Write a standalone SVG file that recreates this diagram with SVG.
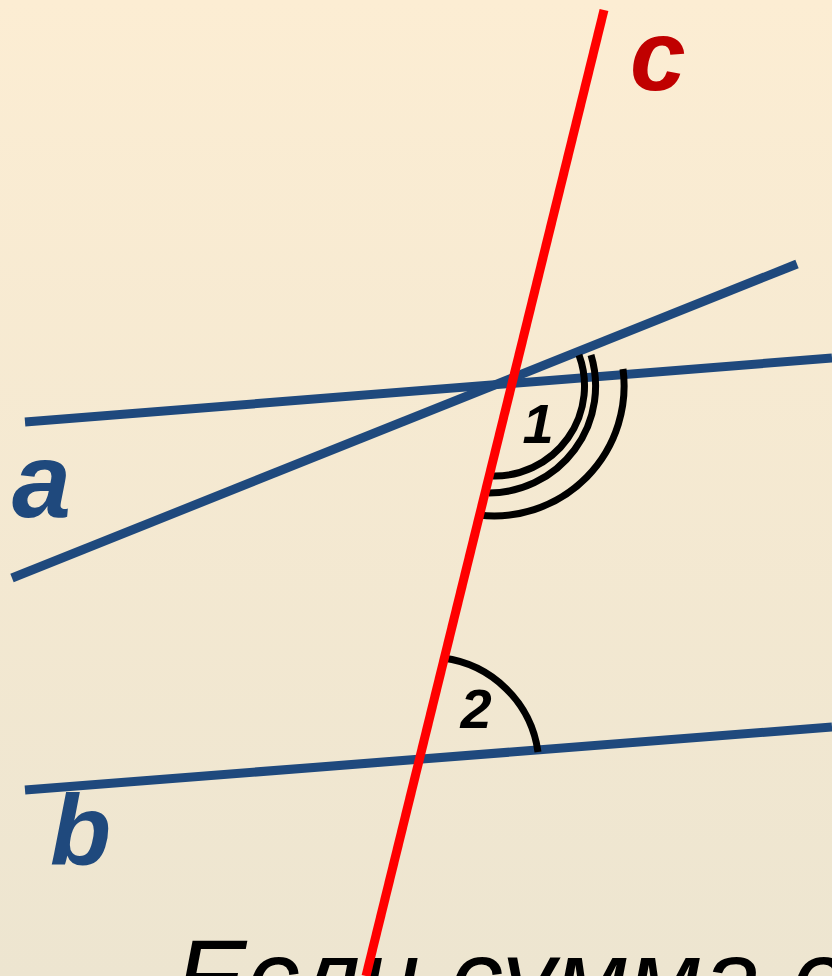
<svg xmlns="http://www.w3.org/2000/svg" width="832" height="976" viewBox="0 0 832 976">
<defs>
<linearGradient id="bg" x1="0" y1="0" x2="0" y2="1">
<stop offset="0" stop-color="#FCEDD3"/>
<stop offset="1" stop-color="#EDE5D0"/>
</linearGradient>
</defs>
<style>
.blue{stroke:#1F497D;stroke-width:9;fill:none}
.red{stroke:#FF0000;stroke-width:9;fill:none}
.arc{stroke:#000;stroke-width:7;fill:none}
.lbl{font-family:"Liberation Sans",Arial,sans-serif;font-weight:bold;font-style:italic}
.num{font-family:"Liberation Sans",Arial,sans-serif;font-weight:bold;font-style:italic;font-size:56px;fill:#000;text-anchor:middle}
.cap{font-family:"Liberation Sans",Arial,sans-serif;font-style:italic;font-size:107px;fill:#000}
</style>
<rect width="832" height="976" fill="url(#bg)"/>
<g id="lines">
<line id="line-a" class="blue" x1="25" y1="422" x2="832" y2="358"/>
<line id="line-a2" class="blue" x1="12" y1="578" x2="797" y2="264"/>
<line id="line-b" class="blue" x1="25" y1="790" x2="832" y2="727"/>
</g>
<g id="arcs">
<path class="arc" d="M579,355 A90,90 0 0 1 493,476"/>
<path class="arc" d="M591,355 A107,107 0 0 1 489,493"/>
<path class="arc" d="M623,369 A130,130 0 0 1 479,515"/>
<path class="arc" d="M443,658 A110,110 0 0 1 538,752"/>
</g>
<text class="cap" x="175" y="1015">Если сумма с</text>
<g id="line-c"><line class="red" x1="604" y1="10" x2="366" y2="976"/></g>
<g id="labels">
<text class="num" x="538" y="443">1</text>
<text class="num" x="476" y="728">2</text>
<text class="lbl" x="12" y="517" font-size="106" fill="#1F497D">a</text>
<text class="lbl" x="50" y="865" font-size="100" fill="#1F497D">b</text>
<text class="lbl" x="630" y="90" font-size="100" fill="#C00000">c</text>
</g>
</svg>
